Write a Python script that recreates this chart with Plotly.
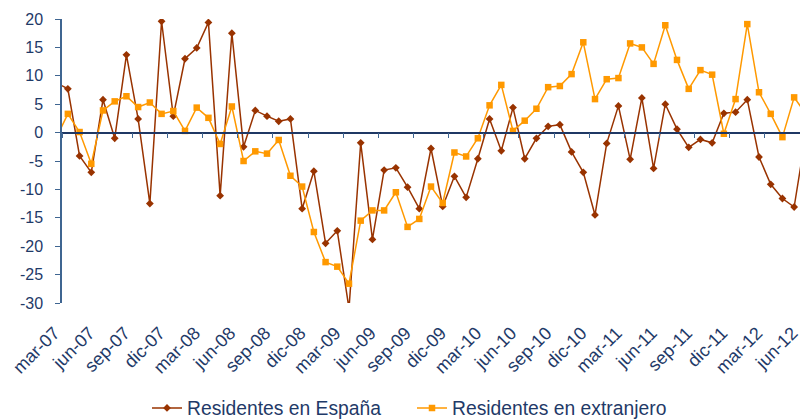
import plotly.graph_objects as go

# monthly categories, feb-07 .. jun-12 (first and last fall just outside the visible window)
MESES = ["ene", "feb", "mar", "abr", "may", "jun", "jul", "ago", "sep", "oct", "nov", "dic"]
months = [f"{MESES[m - 1]}-{y % 100:02d}" for y in range(2007, 2013) for m in range(1, 13)]
months = months[months.index("feb-07"):months.index("jun-12") + 1]

espana = [8.8, 7.7, -4.1, -7.0, 5.8, -1.0, 13.7, 2.4, -12.5, 19.6, 2.9, 13.0, 14.9, 19.4,
          -11.1, 17.5, -2.5, 3.9, 2.9, 2.0, 2.4, -13.4, -6.8, -19.5, -17.3, -31.0, -1.8, -18.8,
          -6.6, -6.2, -9.6, -13.4, -2.8, -13.0, -7.7, -11.4, -4.6, 2.4, -3.2, 4.4, -4.6, -1.0,
          1.1, 1.4, -3.4, -7.0, -14.5, -1.9, 4.7, -4.7, 6.1, -6.3, 5.0, 0.6, -2.6, -1.2, -1.8,
          3.4, 3.6, 5.8, -4.3, -9.1, -11.6, -13.1, -0.3]

extranjero = [-1.0, 3.3, 0.1, -5.5, 3.9, 5.5, 6.4, 4.5, 5.3, 3.3, 3.8, 0.3, 4.4, 2.6, -2.0,
              4.6, -5.0, -3.3, -3.7, -1.3, -7.6, -9.5, -17.5, -22.8, -23.6, -26.6, -15.5, -13.7,
              -13.7, -10.5, -16.6, -15.2, -9.5, -12.4, -3.5, -4.2, -1.0, 4.8, 8.4, 0.3, 2.1, 4.2,
              8.0, 8.2, 10.3, 15.9, 5.9, 9.4, 9.6, 15.7, 15.0, 12.1, 18.9, 12.8, 7.7, 11.0, 10.2,
              -0.2, 5.9, 19.1, 7.1, 3.3, -0.8, 6.2, 3.3]

tick_labels = ["mar-07", "jun-07", "sep-07", "dic-07", "mar-08", "jun-08", "sep-08", "dic-08",
               "mar-09", "jun-09", "sep-09", "dic-09", "mar-10", "jun-10", "sep-10", "dic-10",
               "mar-11", "jun-11", "sep-11", "dic-11", "mar-12", "jun-12"]
y_ticks = [-30, -25, -20, -15, -10, -5, 0, 5, 10, 15, 20]

INK = "#1F3A68"
AXIS = "#3F6591"
BROWN = "#993300"
ORANGE = "#FF9900"
FONT = "Arial, Liberation Sans, sans-serif"

W, H = 800, 420
ML = 30          # paper margin; the y axis itself sits further right
AXIS_X = 62
x_range = [0.5, len(months) - 1.5]   # feb-07 and jun-12 just outside the frame
d0 = (AXIS_X - ML) / (W - ML)
cat_px = (W - AXIS_X) / (x_range[1] - x_range[0])
# label axis spans the whole paper width, same scale/coordinates as the data axis
lab_range = [x_range[0] - (AXIS_X - ML) / cat_px, x_range[1]]
LABEL_SHIFT = 1.15   # rotated labels end just left of their month

fig = go.Figure()
fig.add_trace(go.Scatter(
    x=months, y=espana, name="Residentes en España", mode="lines+markers",
    line=dict(color=BROWN, width=1.5),
    marker=dict(symbol="diamond", size=6, color=BROWN),
))
fig.add_trace(go.Scatter(
    x=months, y=extranjero, name="Residentes en extranjero", mode="lines+markers",
    line=dict(color=ORANGE, width=1.5),
    marker=dict(symbol="square", size=6.5, color=ORANGE),
))
# empty traces so the helper axes get drawn
fig.add_trace(go.Scatter(x=[], y=[], xaxis="x2", showlegend=False, hoverinfo="skip"))
fig.add_trace(go.Scatter(x=[], y=[], xaxis="x3", showlegend=False, hoverinfo="skip"))

fig.update_layout(
    width=W, height=H,
    paper_bgcolor="white", plot_bgcolor="rgba(0,0,0,0)",
    margin=dict(l=ML, r=0, t=19, b=117, autoexpand=False),
    font=dict(family=FONT, color=INK),
    showlegend=True,
    legend=dict(orientation="h", x=(147 - ML) / (W - ML), xanchor="left", y=-0.371,
                yanchor="middle", font=dict(size=19.3, color=INK),
                entrywidth=220, entrywidthmode="pixels"),
    xaxis=dict(type="category", domain=[d0, 1], range=x_range, showticklabels=False,
               ticks="", showgrid=False, zeroline=False, showline=False, automargin=False),
    # axis line through y = 0, with tick marks between the quarters
    xaxis2=dict(overlaying="x", anchor="free", position=0.6, domain=[d0, 1], range=x_range,
                tickmode="array", tickvals=[1 - 0.5 + 3 * k for k in range(len(tick_labels))],
                ticks="outside", ticklen=5, tickcolor=AXIS, tickwidth=1,
                showticklabels=False, showgrid=False, zeroline=False, automargin=False,
                showline=True, linecolor="#1F3864", linewidth=1.5),
    # rotated quarter labels along the bottom (own domain so mar-07 can sit left of the y axis)
    xaxis3=dict(anchor="y", side="bottom", domain=[0, 1], range=lab_range,
                tickmode="array",
                tickvals=[months.index(t) - LABEL_SHIFT for t in tick_labels],
                ticktext=tick_labels, tickangle=-45, ticks="", ticklabelstandoff=15,
                ticklabeloverflow="allow",
                tickfont=dict(size=18, color=INK), automargin=False,
                showgrid=False, zeroline=False, showline=False),
    yaxis=dict(range=[-30, 20], tickmode="array", tickvals=y_ticks,
               ticktext=[str(v) for v in y_ticks], ticks="outside", ticklen=5,
               tickcolor=AXIS, showline=True, linecolor=AXIS, linewidth=1.5,
               showgrid=False, zeroline=False, ticklabelstandoff=9, automargin=False,
               tickfont=dict(size=16, color=INK)),
)

# the page body has a default 8px margin; drop it so the figure fills the window exactly
fig.write_html("out.html", config={"displayModeBar": False},
               post_script="document.body.style.margin='0';")
